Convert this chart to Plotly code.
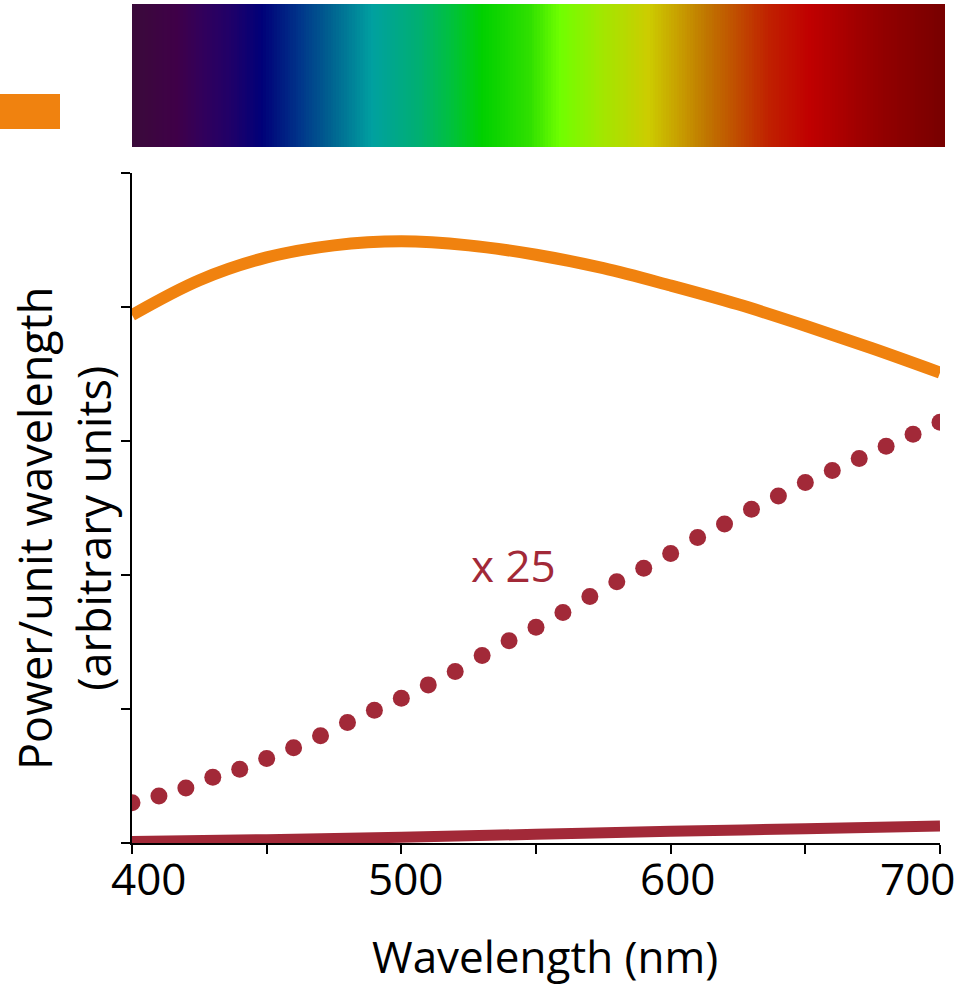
import numpy as np
import plotly.graph_objects as go

# ---------------- data ----------------
wavelength_tick_vals = [400, 450, 500, 550, 600, 650, 700]
wavelength_label_vals = [400, 500, 600, 700]
wavelength_label_text = ["400", "500", "600", "700"]
power_tick_vals = [0, 1, 2, 3, 4, 5]

# hot source (orange curve)
hot_nm = [400, 425, 450, 475, 500, 525, 550, 575, 600, 625, 650, 675, 700]
hot_power = [3.94, 4.20, 4.37, 4.46, 4.49, 4.46, 4.39, 4.29, 4.16, 4.02, 3.86, 3.69, 3.51]

# cool source (solid dark red line)
cool_nm = [400, 450, 500, 550, 600, 650, 700]
cool_power = [0.012, 0.025, 0.043, 0.065, 0.087, 0.107, 0.126]

# cool source magnified x25 (dotted)
cool25_nm = [400, 410, 420, 430, 440, 450, 460, 470, 480, 490, 500, 510, 520, 530,
             540, 550, 560, 570, 580, 590, 600, 610, 620, 630, 640, 650, 660, 670,
             680, 690, 700]
cool25_power = [0.30, 0.35, 0.41, 0.49, 0.55, 0.63, 0.71, 0.80, 0.90, 0.99, 1.08,
                1.18, 1.28, 1.40, 1.51, 1.61, 1.72, 1.84, 1.95, 2.05, 2.16, 2.28,
                2.38, 2.49, 2.59, 2.69, 2.78, 2.87, 2.96, 3.05, 3.14]

# visible spectrum colour stops
spectrum_nm = [400, 416, 425, 436, 448, 462, 473, 489, 507, 518, 530, 548, 559, 574,
               592, 603, 613, 624, 637, 652, 670, 681, 702]
spectrum_colors = ["#3a0a3a", "#3f0048", "#33005a", "#200068", "#000078", "#00358a",
                   "#006090", "#00a0a0", "#00b070", "#00c040", "#00d000", "#30e000",
                   "#70ff00", "#a0e800", "#cccc00", "#c8a000", "#c07800", "#c05000",
                   "#c02000", "#c00000", "#a00000", "#900000", "#780000"]

label_text = "x 25"
x_title = "Wavelength (nm)"
y_title = "Power/unit wavelength<br>(arbitrary units)"

ORANGE = "#f0820f"
RED = "#a22938"
FONT = "Open Sans"

# ---------------- layout geometry ----------------
W, H = 965, 986
ML, MR, MT, MB = 132, 20, 4, 143
PW = W - ML - MR
PH = H - MT - MB


def px_x(p):
    return (p - ML) / PW


def px_y(p):
    return (H - MB - p) / PH


fig = go.Figure()

# spectrum bar (heatmap on second axes)
s_lo, s_hi = spectrum_nm[0], spectrum_nm[-1]
grid = np.arange(s_lo, s_hi + 1)
colorscale = [[(w - s_lo) / (s_hi - s_lo), c] for w, c in zip(spectrum_nm, spectrum_colors)]
fig.add_trace(go.Heatmap(
    x=grid, y=[0], z=[grid], colorscale=colorscale, zmin=s_lo, zmax=s_hi,
    showscale=False, xaxis="x2", yaxis="y2", hoverinfo="skip",
))

fig.add_trace(go.Scatter(
    x=hot_nm, y=hot_power, mode="lines",
    line=dict(color=ORANGE, width=12, shape="spline"), showlegend=False,
))
fig.add_trace(go.Scatter(
    x=cool_nm, y=cool_power, mode="lines",
    line=dict(color=RED, width=11, shape="spline"), showlegend=False,
))
fig.add_trace(go.Scatter(
    x=cool25_nm, y=cool25_power, mode="markers",
    marker=dict(color=RED, size=17, line=dict(width=0)), showlegend=False,
))

fig.add_annotation(x=541.5, y=2.075, xref="x", yref="y", text=label_text,
                   showarrow=False, font=dict(family=FONT, size=44, color=RED))

# x tick labels (nudged inward at the ends as in the original)
label_shifts = [16, 4, 7, -23]
for v, t, s in zip(wavelength_label_vals, wavelength_label_text, label_shifts):
    fig.add_annotation(x=v, y=px_y(878), xref="x", yref="paper", text=t,
                       showarrow=False, xanchor="center", yanchor="middle", xshift=s,
                       font=dict(family=FONT, size=44, color="black"))

fig.add_annotation(x=px_x(545), y=px_y(956), xref="paper", yref="paper",
                   text=x_title, showarrow=False, xanchor="center", yanchor="middle",
                   font=dict(family=FONT, size=44, color="black"))
fig.add_annotation(x=px_x(64), y=px_y(529), xref="paper", yref="paper",
                   text=y_title, showarrow=False, textangle=-90,
                   xanchor="center", yanchor="middle",
                   font=dict(family=FONT, size=45, color="black"))

# orange legend swatch
fig.add_shape(type="rect", xref="paper", yref="paper",
              x0=px_x(0), x1=px_x(60), y0=px_y(129), y1=px_y(94),
              fillcolor=ORANGE, line=dict(width=0))

fig.update_layout(
    width=W, height=H,
    margin=dict(l=ML, r=MR, t=MT, b=MB),
    paper_bgcolor="white", plot_bgcolor="white",
    showlegend=False,
    font=dict(family=FONT, color="black"),
    xaxis=dict(
        domain=[0, px_x(940)], range=[400, 700],
        tickvals=wavelength_tick_vals, showticklabels=False,
        ticks="outside", ticklen=9, tickwidth=2, tickcolor="black",
        showline=True, linewidth=2, linecolor="black",
        showgrid=False, zeroline=False,
        anchor="y",
    ),
    yaxis=dict(
        domain=[0, px_y(173)], range=[0, 5],
        tickvals=power_tick_vals, showticklabels=False,
        ticks="outside", ticklen=9, tickwidth=2, tickcolor="black",
        showline=True, linewidth=2, linecolor="black",
        showgrid=False, zeroline=False, anchor="x",
    ),
    xaxis2=dict(domain=[0, 1], range=[s_lo - 0.5, s_hi + 0.5], visible=False,
                anchor="y2", fixedrange=True),
    yaxis2=dict(domain=[px_y(147), 1], range=[-0.5, 0.5], visible=False,
                anchor="x2", fixedrange=True),
)

fig.write_html("out.html")
